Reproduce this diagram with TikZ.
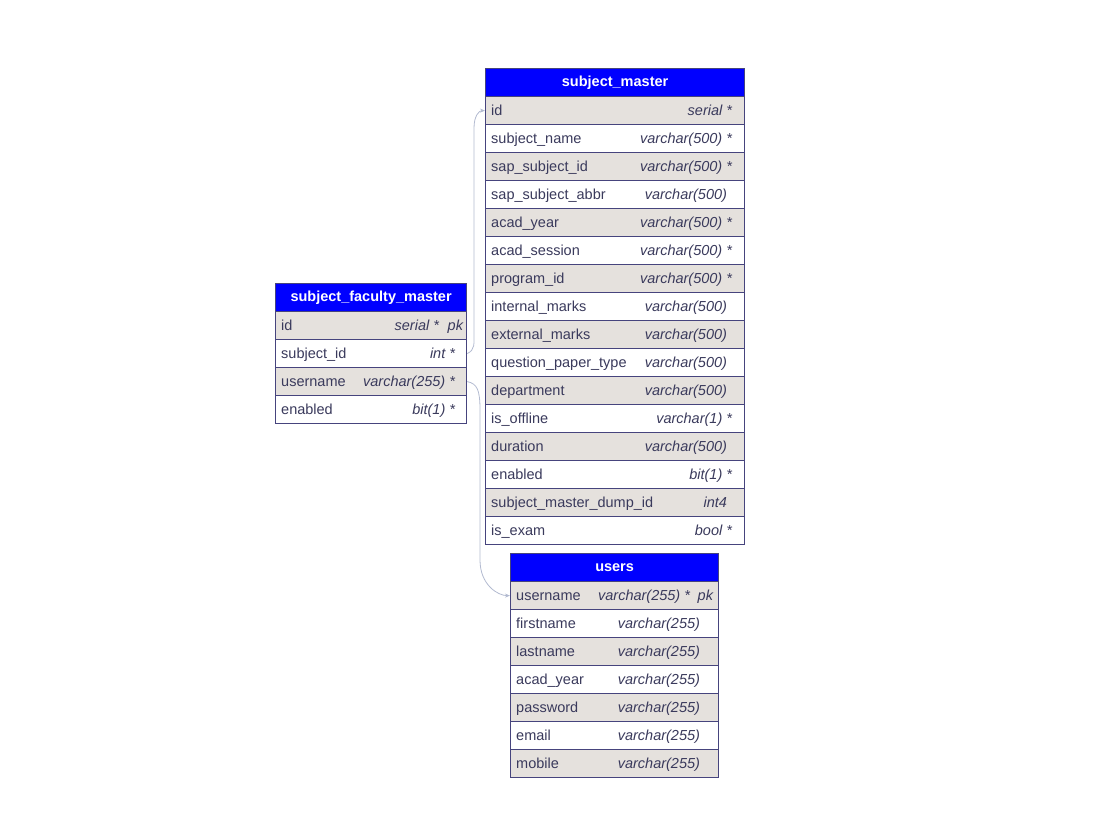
\documentclass[tikz,border=0pt]{standalone}
\usepackage{fontspec}
\setmainfont{Liberation Sans}
\usetikzlibrary{arrows.meta}

\definecolor{hdrblue}{RGB}{0,0,255}
\definecolor{rowgrey}{RGB}{229,225,221}
\definecolor{rimcol}{RGB}{70,68,125}
\definecolor{txtcol}{RGB}{58,58,92}
\definecolor{linkcol}{RGB}{178,186,208}

\newcommand{\tblfont}{\fontsize{14.5}{17}\selectfont}

\tikzset{
  tblhead/.style={draw=rimcol, line width=1.2pt, fill=hdrblue, text=white, font=\bfseries\tblfont, minimum height=28pt, inner sep=0pt, anchor=north west},
  whiterow/.style={draw=rimcol, line width=1.2pt, fill=white, minimum height=28pt, inner sep=0pt, anchor=north west},
  greyrow/.style={whiterow, fill=rowgrey},
  colname/.style={anchor=base west, text=txtcol, font=\tblfont, inner sep=0pt},
  coltype/.style={anchor=base east, text=txtcol, font=\itshape\tblfont, inner sep=0pt},
  link/.style={draw=linkcol, line width=0.8pt, -{Stealth[length=5pt,width=4pt]}}
}

\begin{document}
\begin{tikzpicture}[x=1pt, y=-1pt]
    \useasboundingbox (0,0) rectangle (1118,833);

    % subject_faculty_master
    \node[tblhead, minimum width=191pt] (sfm-head) at (275, 283) {subject\_faculty\_master};
    \node[greyrow, minimum width=191pt] (sfm-id) at (275, 311) {};
    \node[whiterow, minimum width=191pt] (sfm-subjid) at (275, 339) {};
    \node[greyrow, minimum width=191pt] (sfm-user) at (275, 367) {};
    \node[whiterow, minimum width=191pt] (sfm-enabled) at (275, 395) {};
    \node[colname] (sfm-id-n) at ([xshift=6pt, yshift=-5pt]sfm-id.west) {id};
    \node[coltype] (sfm-id-t) at ([xshift=-28pt, yshift=-5pt]sfm-id.east) {serial *};
    \node[coltype] (sfm-id-k) at ([xshift=-4pt, yshift=-5pt]sfm-id.east) {pk};
    \node[colname] (sfm-subjid-n) at ([xshift=6pt, yshift=-5pt]sfm-subjid.west) {subject\_id};
    \node[coltype] (sfm-subjid-t) at ([xshift=-12pt, yshift=-5pt]sfm-subjid.east) {int *};
    \node[colname] (sfm-user-n) at ([xshift=6pt, yshift=-5pt]sfm-user.west) {username};
    \node[coltype] (sfm-user-t) at ([xshift=-12pt, yshift=-5pt]sfm-user.east) {varchar(255) *};
    \node[colname] (sfm-enabled-n) at ([xshift=6pt, yshift=-5pt]sfm-enabled.west) {enabled};
    \node[coltype] (sfm-enabled-t) at ([xshift=-12pt, yshift=-5pt]sfm-enabled.east) {bit(1) *};

    % subject_master
    \node[tblhead, minimum width=259pt] (sm-head) at (485, 68) {subject\_master};
    \node[greyrow, minimum width=259pt] (sm-id) at (485, 96) {};
    \node[whiterow, minimum width=259pt] (sm-name) at (485, 124) {};
    \node[greyrow, minimum width=259pt] (sm-sapid) at (485, 152) {};
    \node[whiterow, minimum width=259pt] (sm-sapabbr) at (485, 180) {};
    \node[greyrow, minimum width=259pt] (sm-year) at (485, 208) {};
    \node[whiterow, minimum width=259pt] (sm-session) at (485, 236) {};
    \node[greyrow, minimum width=259pt] (sm-program) at (485, 264) {};
    \node[whiterow, minimum width=259pt] (sm-internal) at (485, 292) {};
    \node[greyrow, minimum width=259pt] (sm-external) at (485, 320) {};
    \node[whiterow, minimum width=259pt] (sm-qptype) at (485, 348) {};
    \node[greyrow, minimum width=259pt] (sm-dept) at (485, 376) {};
    \node[whiterow, minimum width=259pt] (sm-offline) at (485, 404) {};
    \node[greyrow, minimum width=259pt] (sm-duration) at (485, 432) {};
    \node[whiterow, minimum width=259pt] (sm-enabled) at (485, 460) {};
    \node[greyrow, minimum width=259pt] (sm-dump) at (485, 488) {};
    \node[whiterow, minimum width=259pt] (sm-exam) at (485, 516) {};
    \node[colname] (sm-id-n) at ([xshift=6pt, yshift=-5pt]sm-id.west) {id};
    \node[coltype] (sm-id-t) at ([xshift=-13pt, yshift=-5pt]sm-id.east) {serial *};
    \node[colname] (sm-name-n) at ([xshift=6pt, yshift=-5pt]sm-name.west) {subject\_name};
    \node[coltype] (sm-name-t) at ([xshift=-13pt, yshift=-5pt]sm-name.east) {varchar(500) *};
    \node[colname] (sm-sapid-n) at ([xshift=6pt, yshift=-5pt]sm-sapid.west) {sap\_subject\_id};
    \node[coltype] (sm-sapid-t) at ([xshift=-13pt, yshift=-5pt]sm-sapid.east) {varchar(500) *};
    \node[colname] (sm-sapabbr-n) at ([xshift=6pt, yshift=-5pt]sm-sapabbr.west) {sap\_subject\_abbr};
    \node[coltype] (sm-sapabbr-t) at ([xshift=-18pt, yshift=-5pt]sm-sapabbr.east) {varchar(500)};
    \node[colname] (sm-year-n) at ([xshift=6pt, yshift=-5pt]sm-year.west) {acad\_year};
    \node[coltype] (sm-year-t) at ([xshift=-13pt, yshift=-5pt]sm-year.east) {varchar(500) *};
    \node[colname] (sm-session-n) at ([xshift=6pt, yshift=-5pt]sm-session.west) {acad\_session};
    \node[coltype] (sm-session-t) at ([xshift=-13pt, yshift=-5pt]sm-session.east) {varchar(500) *};
    \node[colname] (sm-program-n) at ([xshift=6pt, yshift=-5pt]sm-program.west) {program\_id};
    \node[coltype] (sm-program-t) at ([xshift=-13pt, yshift=-5pt]sm-program.east) {varchar(500) *};
    \node[colname] (sm-internal-n) at ([xshift=6pt, yshift=-5pt]sm-internal.west) {internal\_marks};
    \node[coltype] (sm-internal-t) at ([xshift=-18pt, yshift=-5pt]sm-internal.east) {varchar(500)};
    \node[colname] (sm-external-n) at ([xshift=6pt, yshift=-5pt]sm-external.west) {external\_marks};
    \node[coltype] (sm-external-t) at ([xshift=-18pt, yshift=-5pt]sm-external.east) {varchar(500)};
    \node[colname] (sm-qptype-n) at ([xshift=6pt, yshift=-5pt]sm-qptype.west) {question\_paper\_type};
    \node[coltype] (sm-qptype-t) at ([xshift=-18pt, yshift=-5pt]sm-qptype.east) {varchar(500)};
    \node[colname] (sm-dept-n) at ([xshift=6pt, yshift=-5pt]sm-dept.west) {department};
    \node[coltype] (sm-dept-t) at ([xshift=-18pt, yshift=-5pt]sm-dept.east) {varchar(500)};
    \node[colname] (sm-offline-n) at ([xshift=6pt, yshift=-5pt]sm-offline.west) {is\_offline};
    \node[coltype] (sm-offline-t) at ([xshift=-13pt, yshift=-5pt]sm-offline.east) {varchar(1) *};
    \node[colname] (sm-duration-n) at ([xshift=6pt, yshift=-5pt]sm-duration.west) {duration};
    \node[coltype] (sm-duration-t) at ([xshift=-18pt, yshift=-5pt]sm-duration.east) {varchar(500)};
    \node[colname] (sm-enabled-n) at ([xshift=6pt, yshift=-5pt]sm-enabled.west) {enabled};
    \node[coltype] (sm-enabled-t) at ([xshift=-13pt, yshift=-5pt]sm-enabled.east) {bit(1) *};
    \node[colname] (sm-dump-n) at ([xshift=6pt, yshift=-5pt]sm-dump.west) {subject\_master\_dump\_id};
    \node[coltype] (sm-dump-t) at ([xshift=-18pt, yshift=-5pt]sm-dump.east) {int4};
    \node[colname] (sm-exam-n) at ([xshift=6pt, yshift=-5pt]sm-exam.west) {is\_exam};
    \node[coltype] (sm-exam-t) at ([xshift=-13pt, yshift=-5pt]sm-exam.east) {bool *};

    % users
    \node[tblhead, minimum width=208pt] (users-head) at (510, 553) {users};
    \node[greyrow, minimum width=208pt] (users-user) at (510, 581) {};
    \node[whiterow, minimum width=208pt] (users-first) at (510, 609) {};
    \node[greyrow, minimum width=208pt] (users-last) at (510, 637) {};
    \node[whiterow, minimum width=208pt] (users-year) at (510, 665) {};
    \node[greyrow, minimum width=208pt] (users-pass) at (510, 693) {};
    \node[whiterow, minimum width=208pt] (users-email) at (510, 721) {};
    \node[greyrow, minimum width=208pt] (users-mobile) at (510, 749) {};
    \node[colname] (users-user-n) at ([xshift=6pt, yshift=-5pt]users-user.west) {username};
    \node[coltype] (users-user-t) at ([xshift=-29pt, yshift=-5pt]users-user.east) {varchar(255) *};
    \node[coltype] (users-user-k) at ([xshift=-6pt, yshift=-5pt]users-user.east) {pk};
    \node[colname] (users-first-n) at ([xshift=6pt, yshift=-5pt]users-first.west) {firstname};
    \node[coltype] (users-first-t) at ([xshift=-19pt, yshift=-5pt]users-first.east) {varchar(255)};
    \node[colname] (users-last-n) at ([xshift=6pt, yshift=-5pt]users-last.west) {lastname};
    \node[coltype] (users-last-t) at ([xshift=-19pt, yshift=-5pt]users-last.east) {varchar(255)};
    \node[colname] (users-year-n) at ([xshift=6pt, yshift=-5pt]users-year.west) {acad\_year};
    \node[coltype] (users-year-t) at ([xshift=-19pt, yshift=-5pt]users-year.east) {varchar(255)};
    \node[colname] (users-pass-n) at ([xshift=6pt, yshift=-5pt]users-pass.west) {password};
    \node[coltype] (users-pass-t) at ([xshift=-19pt, yshift=-5pt]users-pass.east) {varchar(255)};
    \node[colname] (users-email-n) at ([xshift=6pt, yshift=-5pt]users-email.west) {email};
    \node[coltype] (users-email-t) at ([xshift=-19pt, yshift=-5pt]users-email.east) {varchar(255)};
    \node[colname] (users-mobile-n) at ([xshift=6pt, yshift=-5pt]users-mobile.west) {mobile};
    \node[coltype] (users-mobile-t) at ([xshift=-19pt, yshift=-5pt]users-mobile.east) {varchar(255)};

    % references
    \draw[link] (sfm-subjid.east) .. controls +(8,-4) and +(0,15) .. (474,330) -- (474,128) .. controls +(0,-12) and +(-6,0) .. (sm-id.west);
    \draw[link] (sfm-user.east) .. controls +(10,2) and +(0,-20) .. (480,410) -- (480,560) .. controls +(0,25) and +(-12,0) .. (users-user.west);
\end{tikzpicture}
\end{document}
